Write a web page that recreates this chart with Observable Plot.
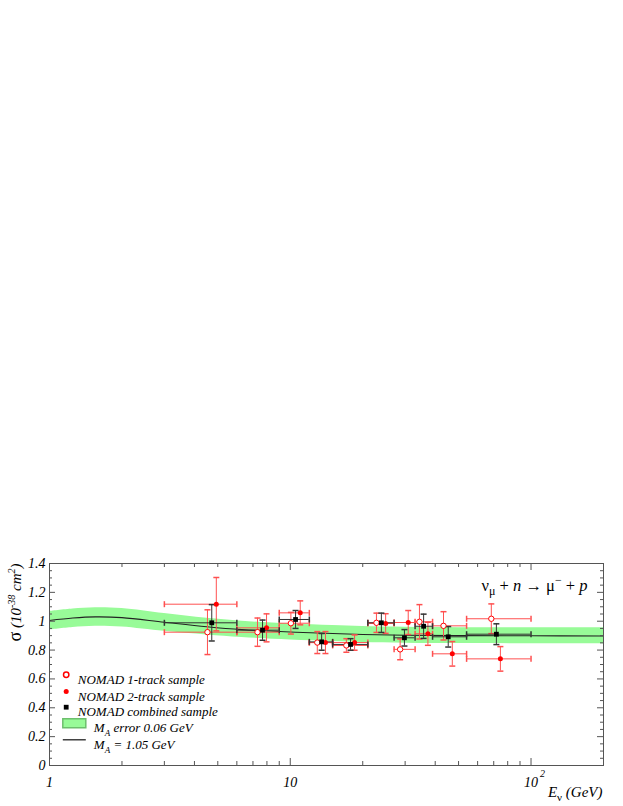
<!DOCTYPE html>
<html><head><meta charset="utf-8">
<script src="https://cdn.jsdelivr.net/npm/d3@7"></script>
<script src="https://cdn.jsdelivr.net/npm/@observablehq/plot@0.6"></script>
<style>body{margin:0;background:#fff;} svg{display:block;}</style>
</head><body><div id="chart"></div>
<script>
// ---------------- data ----------------
const binLo = [3, 6, 9, 12, 15, 21, 27, 33, 39, 54];
const binHi = [6, 9, 12, 15, 21, 27, 33, 39, 54, 100];

const oneE   = [4.53, 7.31, 10.06, 12.95, 17.1, 22.8, 28.6, 34.4, 43.3, 68.4];
const oneS   = [0.924, 0.924, 0.986, 0.852, 0.832, 0.989, 0.805, 0.996, 0.968, 1.017];
const oneErr = [0.155, 0.098, 0.075, 0.076, 0.047, 0.067, 0.072, 0.119, 0.098, 0.103];

const twoE   = [4.93, 7.97, 11.0, 14.0, 18.5, 24.9, 30.9, 37.3, 47.1, 74.6];
const twoS   = [1.118, 0.954, 1.058, 0.852, 0.852, 0.984, 0.991, 0.913, 0.774, 0.739];
const twoErr = [0.185, 0.097, 0.083, 0.076, 0.053, 0.068, 0.083, 0.080, 0.085, 0.085];

const comE   = [4.72, 7.67, 10.52, 13.5, 17.8, 23.9, 29.8, 35.8, 45.3, 71.8];
const comS   = [0.989, 0.938, 1.012, 0.857, 0.839, 0.989, 0.885, 0.965, 0.892, 0.910];
const comErr = [0.126, 0.070, 0.062, 0.058, 0.040, 0.067, 0.057, 0.084, 0.071, 0.072];

const curveE  = [1, 1.25, 1.55, 2, 3, 4.5, 6.3, 10, 15, 20, 30, 50, 100, 200];
const curveS  = [1.005, 1.022, 1.030, 1.025, 0.993, 0.962, 0.942, 0.925, 0.915, 0.908, 0.903, 0.900, 0.899, 0.898];
const bandHi  = [1.068, 1.085, 1.093, 1.088, 1.053, 1.020, 1.000, 0.980, 0.970, 0.963, 0.958, 0.955, 0.954, 0.954];
const bandLo  = [0.940, 0.957, 0.965, 0.960, 0.930, 0.905, 0.887, 0.870, 0.860, 0.853, 0.848, 0.845, 0.844, 0.843];

const yMajor = [0, 0.2, 0.4, 0.6, 0.8, 1, 1.2, 1.4];
const yMinor = d3.range(0, 1.4001, 0.05).filter(v => Math.abs(v*5 - Math.round(v*5)) > 1e-6);
const xMajor = [1, 10, 100];
const xMinor = [2,3,4,5,6,7,8,9,20,30,40,50,60,70,80,90];
const xTickLabels = ["1", "10", "10"];

const legendLabels = ["NOMAD 1-track sample", "NOMAD 2-track sample", "NOMAD combined sample", "MA error 0.06 GeV", "MA = 1.05 GeV"];
const titleText = "νμ + n → μ− + p";
const yLabelText = "σ (10-38 cm2)";
const xLabelText = "Eν (GeV)";

// ---------------- build ----------------
const series = (E, S, Err) => E.map((e, i) => ({e, s: S[i], err: Err[i], lo: binLo[i], hi: binHi[i]}));
const one = series(oneE, oneS, oneErr);
const two = series(twoE, twoS, twoErr);
const com = series(comE, comS, comErr);
const curve = curveE.map((e, i) => ({e, s: curveS[i], hi: bandHi[i], lo: bandLo[i]}));

const capH = {draw(ctx, size){const r = Math.sqrt(size/Math.PI); ctx.moveTo(-r,0); ctx.lineTo(r,0);}};
const capV = {draw(ctx, size){const r = Math.sqrt(size/Math.PI); ctx.moveTo(0,-r); ctx.lineTo(0,r);}};
const boxSym = {draw(ctx){ctx.rect(-11.5,-4.5,23,9);}};
const lineSym = {draw(ctx){ctx.moveTo(-11.5,0); ctx.lineTo(11.5,0);}};

const W = 623, H = 806, mL = 49, mR = 20, mT = 563, mB = 41;
const pW = W - mL - mR, pH = H - mT - mB;
const serif = "'Liberation Serif', 'Times New Roman', serif";
const frameCol = "#555";

function errMarks(data, color) {
  return [
    Plot.ruleX(data, {x: "e", y1: d => d.s - d.err, y2: d => d.s + d.err, stroke: color, strokeWidth: 1}),
    Plot.ruleY(data, {y: "s", x1: "lo", x2: "hi", stroke: color, strokeWidth: 1}),
    Plot.dot(data, {x: "e", y: d => d.s + d.err, symbol: capH, r: 3, stroke: color, fill: "none"}),
    Plot.dot(data, {x: "e", y: d => d.s - d.err, symbol: capH, r: 3, stroke: color, fill: "none"}),
    Plot.dot(data, {x: "lo", y: "s", symbol: capV, r: 3, stroke: color, fill: "none"}),
    Plot.dot(data, {x: "hi", y: "s", symbol: capV, r: 3, stroke: color, fill: "none"})
  ];
}

const red = "#ff5050";
const chart = Plot.plot({
  width: W, height: H,
  marginLeft: mL, marginRight: mR, marginTop: mT, marginBottom: mB,
  style: {fontFamily: serif, background: "white"},
  x: {type: "log", domain: [1, 200], axis: null},
  y: {domain: [0, 1.4], axis: null},
  marks: [
    Plot.areaY(curve, {x: "e", y1: "lo", y2: "hi", fill: "#98fb98", curve: "catmull-rom"}),
    Plot.line(curve, {x: "e", y: "s", stroke: "#222", strokeWidth: 1.1, curve: "catmull-rom"}),
    ...errMarks(one, red),
    ...errMarks(two, red),
    ...errMarks(com, "#333"),
    Plot.dot(one, {x: "e", y: "s", r: 2.7, stroke: "#f00", fill: "white", strokeWidth: 1}),
    Plot.dot(two, {x: "e", y: "s", r: 2.5, fill: "#f00"}),
    Plot.dot(com, {x: "e", y: "s", r: 2.7, symbol: "square", fill: "#000"}),
    // frame and ticks
    Plot.frame({stroke: frameCol}),
    Plot.tickY(yMajor, {y: d => d, insetRight: pW - 6, stroke: frameCol}),
    Plot.tickY(yMinor, {y: d => d, insetRight: pW - 3, stroke: frameCol}),
    Plot.tickY(yMajor, {y: d => d, insetLeft: pW - 6, stroke: frameCol}),
    Plot.tickY(yMinor, {y: d => d, insetLeft: pW - 3, stroke: frameCol}),
    Plot.tickX(xMajor, {x: d => d, insetTop: pH - 7, stroke: frameCol}),
    Plot.tickX(xMinor, {x: d => d, insetTop: pH - 4, stroke: frameCol}),
    Plot.tickX(xMajor, {x: d => d, insetBottom: pH - 7, stroke: frameCol}),
    Plot.tickX(xMinor, {x: d => d, insetBottom: pH - 4, stroke: frameCol}),
    // tick labels
    Plot.text(yMajor, {y: d => d, frameAnchor: "left", textAnchor: "end", dx: -4, text: d => d3.format("~g")(d), fontSize: 14, fontStyle: "italic", fill: "#000"}),
    Plot.text(xMajor, {x: d => d, frameAnchor: "bottom", dy: 21, text: (d, i) => xTickLabels[i], fontSize: 14, fontStyle: "italic", fill: "#000"}),
    Plot.text([100], {x: d => d, frameAnchor: "bottom", dx: 11.5, dy: 11, text: () => "2", fontSize: 10, fontStyle: "italic", fill: "#000"}),
    // axis titles
    Plot.text([xLabelText], {frameAnchor: "bottom-right", textAnchor: "end", dx: -1, dy: 31, text: d => d, fontSize: 15, fontStyle: "italic", fill: "#000"}),
    Plot.text([yLabelText], {frameAnchor: "top-left", rotate: -90, textAnchor: "end", dx: -39, dy: 0, text: d => d, fontSize: 15, fontStyle: "italic", fill: "#000"}),
    Plot.text([titleText], {frameAnchor: "top-right", textAnchor: "end", dx: -16, dy: 16, text: d => d, fontSize: 16.5, fill: "#000"}),
    // legend
    Plot.dot([0], {frameAnchor: "top-left", dx: 16.7, dy: 111.3, r: 2.7, stroke: "#f00", fill: "white"}),
    Plot.dot([0], {frameAnchor: "top-left", dx: 16.7, dy: 128, r: 2.5, fill: "#f00"}),
    Plot.dot([0], {frameAnchor: "top-left", dx: 16.7, dy: 143.7, r: 2.7, symbol: "square", fill: "#000"}),
    Plot.dot([0], {frameAnchor: "top-left", dx: 24.8, dy: 159.7, r: 5, symbol: boxSym, fill: "#98fb98", stroke: "#6dbf6d"}),
    Plot.dot([0], {frameAnchor: "top-left", dx: 24.8, dy: 176.3, r: 5, symbol: lineSym, fill: "none", stroke: "#222", strokeWidth: 1.3}),
    Plot.text([legendLabels[0]], {frameAnchor: "top-left", textAnchor: "start", dx: 28.3, dy: 111.3, text: d => d, fontSize: 13, fontStyle: "italic", fill: "#000"}),
    Plot.text([legendLabels[1]], {frameAnchor: "top-left", textAnchor: "start", dx: 28.3, dy: 128, text: d => d, fontSize: 13, fontStyle: "italic", fill: "#000"}),
    Plot.text([legendLabels[2]], {frameAnchor: "top-left", textAnchor: "start", dx: 28.3, dy: 143.7, text: d => d, fontSize: 13, fontStyle: "italic", fill: "#000"}),
    Plot.text([legendLabels[3]], {frameAnchor: "top-left", textAnchor: "start", dx: 44.3, dy: 159.7, text: d => d, fontSize: 13, fontStyle: "italic", fill: "#000"}),
    Plot.text([legendLabels[4]], {frameAnchor: "top-left", textAnchor: "start", dx: 44.3, dy: 176.3, text: d => d, fontSize: 13, fontStyle: "italic", fill: "#000"})
  ]
});
document.getElementById("chart").appendChild(chart);

// rich text (sub/superscripts)
function rich(key, parts) {
  d3.select(chart).selectAll("text").filter(function(){ return this.textContent === key; }).each(function(){
    const t = d3.select(this);
    t.selectAll("*").remove(); t.text(null);
    let shift = 0;
    for (const p of parts) {
      const sp = t.append("tspan").text(p.t);
      const target = p.shift || 0;
      if (target !== shift) { sp.attr("dy", target - shift); shift = target; }
      sp.attr("font-style", p.it ? "italic" : "normal");
      if (p.size) sp.attr("font-size", p.size);
    }
  });
}
rich(titleText, [
  {t: "ν"}, {t: "μ", shift: 4, size: 12}, {t: " + "}, {t: "n", it: true}, {t: " → "},
  {t: "μ"}, {t: "−", shift: -7, size: 12}, {t: " + "}, {t: "p", it: true}
]);
rich(yLabelText, [
  {t: "σ", size: 18}, {t: " (10", it: true}, {t: "-38", it: true, shift: -6, size: 10},
  {t: " cm", it: true}, {t: "2", it: true, shift: -6, size: 10}, {t: ")", it: true}
]);
rich(xLabelText, [
  {t: "E", it: true}, {t: "ν", shift: 4, size: 11}, {t: " (GeV)", it: true}
]);
rich(legendLabels[3], [
  {t: "M", it: true}, {t: "A", it: true, shift: 4, size: 9}, {t: " error 0.06 GeV", it: true}
]);
rich(legendLabels[4], [
  {t: "M", it: true}, {t: "A", it: true, shift: 4, size: 9}, {t: " = 1.05 GeV", it: true}
]);
</script>
</body></html>
